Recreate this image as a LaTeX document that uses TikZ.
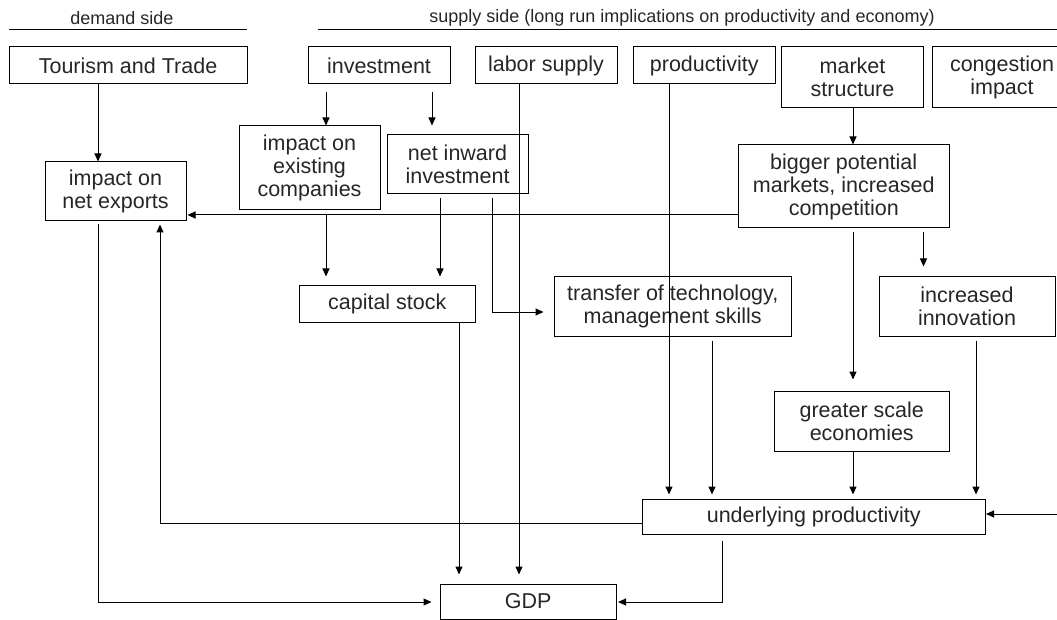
\documentclass[tikz,border=0pt]{standalone}
\usepackage{fontspec}
\setmainfont{Liberation Sans}
\usetikzlibrary{arrows.meta}
\tikzset{
  bx/.style={draw, line width=1pt, inner sep=0pt, align=center, font=\fontsize{21.5}{23}\selectfont, text=black!85},
  arr/.style={line width=1pt, -{Triangle[length=8pt,width=7pt]}},
  ln/.style={line width=1pt},
  hdr/.style={font=\fontsize{18}{20}\selectfont, inner sep=0pt, text=black!85}
}
\newcommand{\bbox}[6]{% name, x1, y1, x2, y2, text
  \node[bx, minimum width={#4-#2}, minimum height={#5-#3}] (#1) at ({(#2+#4)/2},{(#3+#5)/2}) {#6};}
\begin{document}
\begin{tikzpicture}[x=1pt,y=-1pt]
\useasboundingbox (0,0) rectangle (1057,620);
% headers
\node[hdr] (hd) at (122,18) {demand side};
\node[hdr] (hs) at (682,18) {supply side (long run implications on productivity and economy)};
\coordinate (hdl) at (9,30); \coordinate (hdr2) at (247,30);
\coordinate (hsl) at (318,30); \coordinate (hsr) at (1057,30);
\draw[ln] (hdl) -- (hdr2);
\draw[ln] (hsl) -- (hsr);
% boxes
\bbox{tour}{9}{47}{247}{84}{Tourism and Trade}
\bbox{inv}{308}{47}{450}{84}{investment}
\bbox{lab}{475}{47}{617}{84}{labor supply}
\bbox{prod}{633.5}{47}{775}{84}{productivity}
\bbox{mkt}{781.5}{47}{923.5}{108}{market\\structure}
\bbox{cong}{932}{47}{1072}{108}{congestion\\impact}
\bbox{nex}{45}{162}{186}{221}{impact on\\net exports}
\bbox{exi}{239}{126}{380}{210}{impact on\\existing\\companies}
\bbox{nin}{387}{135}{528}{194}{net inward\\investment}
\bbox{big}{738}{145}{949.5}{228}{bigger potential\\markets, increased\\competition}
\bbox{cap}{299}{286}{475.5}{322}{capital stock}
\bbox{tra}{554}{277}{791.5}{336}{transfer of technology,\\management skills}
\bbox{inn}{879}{277}{1055}{336}{increased\\innovation}
\bbox{gre}{774}{391}{949.5}{451}{greater scale\\economies}
\bbox{und}{642}{499}{985.5}{534}{underlying productivity}
\bbox{gdp}{440}{584}{616.5}{619}{GDP}
\coordinate (rin) at (1057,514);
% connectors
\draw[arr] (tour.south -| 98,0) -- (nex.north -| 98,0);
\draw[arr, shorten <=8pt] (inv.south -| 326,0) -- (exi.north -| 326,0);
\draw[arr, shorten <=8pt, shorten >=9pt] (inv.south -| 432,0) -- (nin.north -| 432,0);
\draw[arr, shorten <=5pt, shorten >=9pt] (exi.south -| 326,0) -- (cap.north -| 326,0);
\draw[arr, shorten <=4pt, shorten >=9pt] (nin.south -| 440,0) -- (cap.north -| 440,0);
\draw[arr, shorten <=4pt, shorten >=10pt] (nin.south -| 492,0) |- (tra.west |- 0,312);
\draw[arr, shorten >=9pt] (lab.south -| 519,0) -- (gdp.north -| 519,0);
\draw[arr, shorten >=4pt] (prod.south -| 669,0) -- (und.north -| 669,0);
\draw[arr] (mkt.south -| 853,0) -- (big.north -| 853,0);
\draw[arr, shorten >=1pt] (big.west |- 0,215) -- (nex.east |- 0,215);
\draw[arr, shorten <=4pt, shorten >=11pt] (big.south -| 853,0) -- (gre.north -| 853,0);
\draw[arr, shorten <=4pt, shorten >=10pt] (big.south -| 923.5,0) -- (inn.north -| 923.5,0);
\draw[arr, shorten <=4pt, shorten >=4pt] (tra.south -| 712,0) -- (und.north -| 712,0);
\draw[arr, shorten >=4pt] (gre.south -| 853,0) -- (und.north -| 853,0);
\draw[arr, shorten <=4pt, shorten >=4pt] (inn.south -| 976,0) -- (und.north -| 976,0);
\draw[arr] (rin) -- (und.east |- rin);
\draw[arr, shorten >=3pt] (und.west |- 0,523) -| (nex.south -| 160,0);
\draw[arr, shorten <=3pt, shorten >=8pt] (nex.south -| 98,0) |- (gdp.west |- 0,602);
\draw[arr, shorten >=9pt] (cap.south -| 459,0) -- (gdp.north -| 459,0);
\draw[arr, shorten <=6pt, shorten >=1pt] (und.south -| 722,0) |- (gdp.east |- 0,602);
\end{tikzpicture}
\end{document}
